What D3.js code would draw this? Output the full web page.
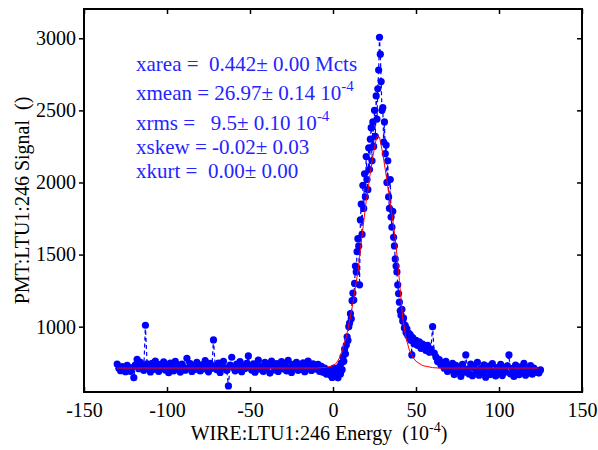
<!DOCTYPE html>
<html>
<head>
<meta charset="utf-8">
<script src="https://cdn.jsdelivr.net/npm/d3@7"></script>
<style>
    body { margin: 0; background: #fff; }
    svg text { font-family: "Liberation Serif", "Times New Roman", serif; }
</style>
</head>
<body>
<div id="chart"></div>
<script>
// wire energy scan, left baseline (x from -130, step 1)
const leftStart = -130, leftStep = 1;
const leftSignal = [
    741, 712, 695, 724, 706, 688, 731, 702, 690, 716,
    646, 735, 774, 709, 752, 728, 697, 1010, 742, 718,
    686, 745, 703, 761, 722, 690, 738, 711, 756, 699,
    727, 681, 748, 716, 694, 759, 707, 733, 685, 741,
    720, 698, 781, 712, 744, 689, 726, 703, 752, 717,
    693, 736, 708, 764, 722, 687, 745, 711, 908, 729,
    702, 748, 683, 725, 760, 714, 697, 589, 733, 788,
    716, 694, 741, 705, 758, 688, 727, 710, 746, 797,
    722, 699, 743, 684, 731, 768, 706, 724, 690, 752,
    713, 737, 678, 761, 725, 700, 744, 689, 720, 758,
    708, 731, 694, 766, 715, 683, 739, 720, 752, 697,
    727, 703, 749, 688, 734, 761, 710, 696, 742, 721,
    706, 738, 690, 725, 684, 712, 671, 698
];

// peak region (x from -2, step 0.5)
const peakStart = -2, peakStep = 0.5;
const peakSignal = [
    690, 665, 702, 648, 680, 712, 655, 694, 668, 706,
    645, 690, 725, 672, 748, 702, 790, 760, 845, 812,
    873, 930, 905, 1000, 1025, 1090, 1055, 1180, 1233, 1185,
    1300, 1420, 1380, 1520, 1610, 1560, 1290, 1740, 1850, 1640,
    1980, 1820, 2060, 1900, 2180, 2020, 1950, 2240, 2090, 2300,
    2380, 2150, 2420, 2250, 2500, 2320, 2600, 2440, 2650, 2780,
    3007, 2890, 2700, 2500, 2520, 2280, 2420, 2200, 2260, 2000,
    2150, 1900, 1820, 2020, 1760, 1690, 1800, 1620, 1560, 1470,
    1420, 1380, 1290, 1230, 1170, 1110, 1080, 1120, 1040, 1060,
    990, 1010, 960, 985, 940, 955, 920, 945, 904, 804,
    925
];

// right shoulder + baseline (x from 49, step 1)
const tailStart = 49, tailStep = 1;
const tailSignal = [
    880, 905, 870, 895, 850, 880, 860, 835, 870, 822,
    845, 1000, 817, 790, 758, 772, 735, 748, 712, 760,
    690, 725, 702, 745, 668, 731, 690, 712, 655, 738,
    684, 804, 706, 672, 741, 660, 718, 693, 752, 664,
    709, 682, 735, 650, 701, 726, 668, 744, 690, 658,
    717, 679, 738, 661, 705, 686, 729, 804, 672, 711,
    655, 733, 690, 667, 722, 681, 745, 663, 702, 688,
    730, 670, 712, 684, 695, 678, 700
];

// gaussian fit (red)
const fitEnergy = [-130, -10, -4, -2, 0, 2, 4, 6, 8, 10, 12, 14, 15, 16, 17, 18, 20, 21, 22, 24,
    26, 27, 28, 30, 32, 34, 36, 38, 40, 42, 44, 46, 48, 50, 54, 60, 64, 124];
const fitSignal = [713, 713, 718, 723, 730, 746, 785, 850, 930, 1040, 1162, 1310, 1380, 1480, 1580, 1680, 1870, 1940, 2030, 2180,
    2300, 2325, 2315, 2200, 2050, 1900, 1740, 1560, 1320, 1060, 920, 838, 790, 760, 730, 716, 713, 713];

const xTicks = [-150, -100, -50, 0, 50, 100, 150];
const yTicks = [1000, 1500, 2000, 2500, 3000];

const statLines = [
    { label: "xarea =  0.442\u00b1 0.00 Mcts", sup: null },
    { label: "xmean = 26.97\u00b1 0.14 10", sup: "-4" },
    { label: "xrms =   9.5\u00b1 0.10 10", sup: "-4" },
    { label: "xskew = -0.02\u00b1 0.03", sup: null },
    { label: "xkurt =  0.00\u00b1 0.00", sup: null }
];
const statBaselines = [71, 100, 130, 154, 178];

const W = 598, H = 450;
const margin = { top: 9, right: 16, bottom: 58, left: 84 };

const svg = d3.select('#chart')
    .append('svg')
    .attr('width', W)
    .attr('height', H);

const x = d3.scaleLinear().domain([-150, 150]).range([margin.left, W - margin.right]);
const y = d3.scaleLinear().domain([547, 3203]).range([H - margin.bottom, margin.top]);

// build point list from the segments
const points = [];
leftSignal.forEach((v, i) => points.push([leftStart + i * leftStep, v]));
peakSignal.forEach((v, i) => points.push([peakStart + i * peakStep, v]));
tailSignal.forEach((v, i) => points.push([tailStart + i * tailStep, v]));

const fit = fitEnergy.map((e, i) => [e, fitSignal[i]]);

const line = d3.line().x(d => x(d[0])).y(d => y(d[1]));

svg.append('path')
    .datum(points)
    .attr('d', line)
    .attr('fill', 'none')
    .attr('stroke', '#0000ff')
    .attr('stroke-width', 1.2)
    .attr('stroke-dasharray', '4,3');

svg.append('g')
    .selectAll('circle')
    .data(points)
    .enter()
    .append('circle')
    .attr('cx', d => x(d[0]))
    .attr('cy', d => y(d[1]))
    .attr('r', 3.6)
    .attr('fill', '#0000ff');

svg.append('path')
    .datum(fit)
    .attr('d', line)
    .attr('fill', 'none')
    .attr('stroke', '#ff0000')
    .attr('stroke-width', 1);

// axes
const fmt = d => String(d);

const gBottom = svg.append('g')
    .attr('transform', `translate(0,${H - margin.bottom})`)
    .call(d3.axisBottom(x).tickValues(xTicks).tickSize(-5).tickPadding(11).tickFormat(fmt));
const gLeft = svg.append('g')
    .attr('transform', `translate(${margin.left},0)`)
    .call(d3.axisLeft(y).tickValues(yTicks).tickSize(5).tickPadding(3).tickFormat(fmt));
const gTop = svg.append('g')
    .attr('transform', `translate(0,${margin.top})`)
    .call(d3.axisTop(x).tickValues(xTicks).tickSize(-5).tickFormat(''));
const gRight = svg.append('g')
    .attr('transform', `translate(${W - margin.right},0)`)
    .call(d3.axisRight(y).tickValues(yTicks).tickSize(-5).tickFormat(''));

[gBottom, gLeft, gTop, gRight].forEach(g => {
    g.select('.domain').remove();
    g.selectAll('line').attr('stroke', '#000').attr('stroke-width', 1.5);
    g.selectAll('text').attr('font-size', 20).attr('fill', '#000')
        .style('font-family', '"Liberation Serif", serif');
});

svg.append('rect')
    .attr('x', margin.left)
    .attr('y', margin.top)
    .attr('width', W - margin.right - margin.left)
    .attr('height', H - margin.bottom - margin.top)
    .attr('fill', 'none')
    .attr('stroke', '#000')
    .attr('stroke-width', 2);

// axis titles
const xTitle = svg.append('text')
    .attr('x', 319)
    .attr('y', 440)
    .attr('text-anchor', 'middle')
    .attr('font-size', 20)
    .style('white-space', 'pre');
xTitle.append('tspan').text('WIRE:LTU1:246 Energy  (10');
xTitle.append('tspan').attr('dy', -8).attr('font-size', 14).text('-4');
xTitle.append('tspan').attr('dy', 8).text(')');

svg.append('text')
    .attr('transform', `translate(29,${(margin.top + H - margin.bottom) / 2}) rotate(-90)`)
    .attr('text-anchor', 'middle')
    .attr('font-size', 20)
    .style('white-space', 'pre')
    .text('PMT:LTU1:246 Signal  ()');

// stats block
statLines.forEach((s, i) => {
    const t = svg.append('text')
        .attr('x', 136)
        .attr('y', statBaselines[i])
        .attr('font-size', 21)
        .attr('fill', '#2424ff')
        .style('white-space', 'pre');
    t.append('tspan').text(s.label);
    if (s.sup) t.append('tspan').attr('dy', -9).attr('font-size', 15).text(s.sup);
});
</script>
</body>
</html>
